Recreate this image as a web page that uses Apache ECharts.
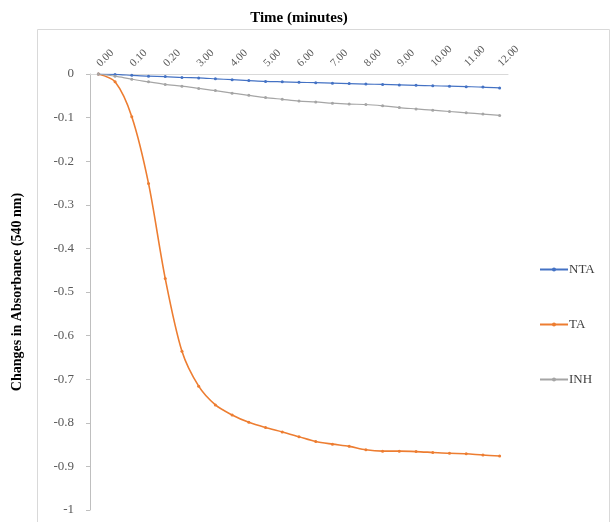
<!DOCTYPE html>
<html>
<head>
<meta charset="utf-8">
<script src="https://cdn.jsdelivr.net/npm/echarts@6/dist/echarts.min.js"></script>
<style>
  html, body { margin: 0; padding: 0; background: #fff; }
  #chart { width: 614px; height: 522px; }
</style>
</head>
<body>
<div id="chart"></div>
<script>
// time points (every second one is labelled)
var times = ['0.00', '0.05', '0.10', '0.15', '0.20', '2.30', '3.00', '3.30', '4.00', '4.30',
             '5.00', '5.30', '6.00', '6.30', '7.00', '7.30', '8.00', '8.30', '9.00', '9.30',
             '10.00', '10.30', '11.00', '11.30', '12.00'];

var nta = [0, -0.001, -0.003, -0.005, -0.006, -0.008, -0.009, -0.011, -0.013, -0.015,
           -0.017, -0.018, -0.019, -0.020, -0.021, -0.022, -0.023, -0.024, -0.025, -0.026,
           -0.027, -0.028, -0.029, -0.030, -0.032];

var ta = [0, -0.018, -0.098, -0.251, -0.469, -0.636, -0.716, -0.759, -0.782, -0.799,
          -0.811, -0.821, -0.832, -0.843, -0.849, -0.854, -0.862, -0.865, -0.865, -0.866,
          -0.868, -0.870, -0.871, -0.874, -0.876];

var inh = [0, -0.005, -0.012, -0.018, -0.024, -0.028, -0.033, -0.038, -0.044, -0.049,
           -0.054, -0.058, -0.062, -0.064, -0.067, -0.069, -0.070, -0.073, -0.077, -0.080,
           -0.083, -0.086, -0.089, -0.092, -0.095];

var serif = '"Liberation Serif", "Times New Roman", serif';
var colors = { NTA: '#4472c4', TA: '#ed7d31', INH: '#a5a5a5' };

function lineSeries(name, data, width) {
    return {
        name: name,
        type: 'line',
        data: data,
        smooth: 0.3,
        symbol: 'circle',
        symbolSize: 3,
        lineStyle: { color: colors[name], width: width },
        itemStyle: { color: colors[name] },
        emphasis: { disabled: true }
    };
}

var chart = echarts.init(document.getElementById('chart'));
var option = {
    animation: false,
    textStyle: { fontFamily: serif },
    grid: { left: 90, right: 106, top: 74, bottom: 12, outerBoundsMode: 'none', containLabel: false },
    graphic: [{
        type: 'rect',
        shape: { x: 37.5, y: 29.5, width: 572, height: 500 },
        style: { fill: 'none', stroke: '#d9d9d9', lineWidth: 1 },
        silent: true
    }],
    legend: {
        orient: 'vertical',
        left: 534,
        top: 258,
        itemGap: 42,
        itemWidth: 28,
        itemHeight: 5,
        textStyle: { fontFamily: serif, fontSize: 13, color: '#404040', padding: [0, 0, 0, -4] },
        data: ['NTA', 'TA', 'INH']
    },
    xAxis: {
        type: 'category',
        position: 'top',
        data: times,
        boundaryGap: true,
        name: 'Time (minutes)',
        nameLocation: 'middle',
        nameGap: 48,
        nameTextStyle: { fontFamily: serif, fontSize: 15, fontWeight: 'bold', color: '#000' },
        axisLine: { lineStyle: { color: '#d9d9d9' } },
        axisTick: { show: false },
        axisLabel: {
            interval: 1,
            rotate: 45,
            fontFamily: serif,
            fontSize: 11,
            color: '#595959',
            margin: 9
        },
        splitLine: { show: false }
    },
    yAxis: {
        type: 'value',
        min: -1,
        max: 0,
        interval: 0.1,
        name: 'Changes in Absorbance (540 nm)',
        nameLocation: 'middle',
        nameGap: 66,
        nameTextStyle: { fontFamily: serif, fontSize: 14, fontWeight: 'bold', color: '#000' },
        axisLine: { show: true, lineStyle: { color: '#bfbfbf' } },
        axisTick: { show: true, length: 4, lineStyle: { color: '#bfbfbf' } },
        axisLabel: { fontFamily: serif, fontSize: 13, color: '#595959', margin: 16 },
        splitLine: { show: false }
    },
    series: [
        lineSeries('NTA', nta, 1.2),
        lineSeries('TA', ta, 1.6),
        lineSeries('INH', inh, 1.2)
    ]
};
chart.setOption(option);
</script>
</body>
</html>
